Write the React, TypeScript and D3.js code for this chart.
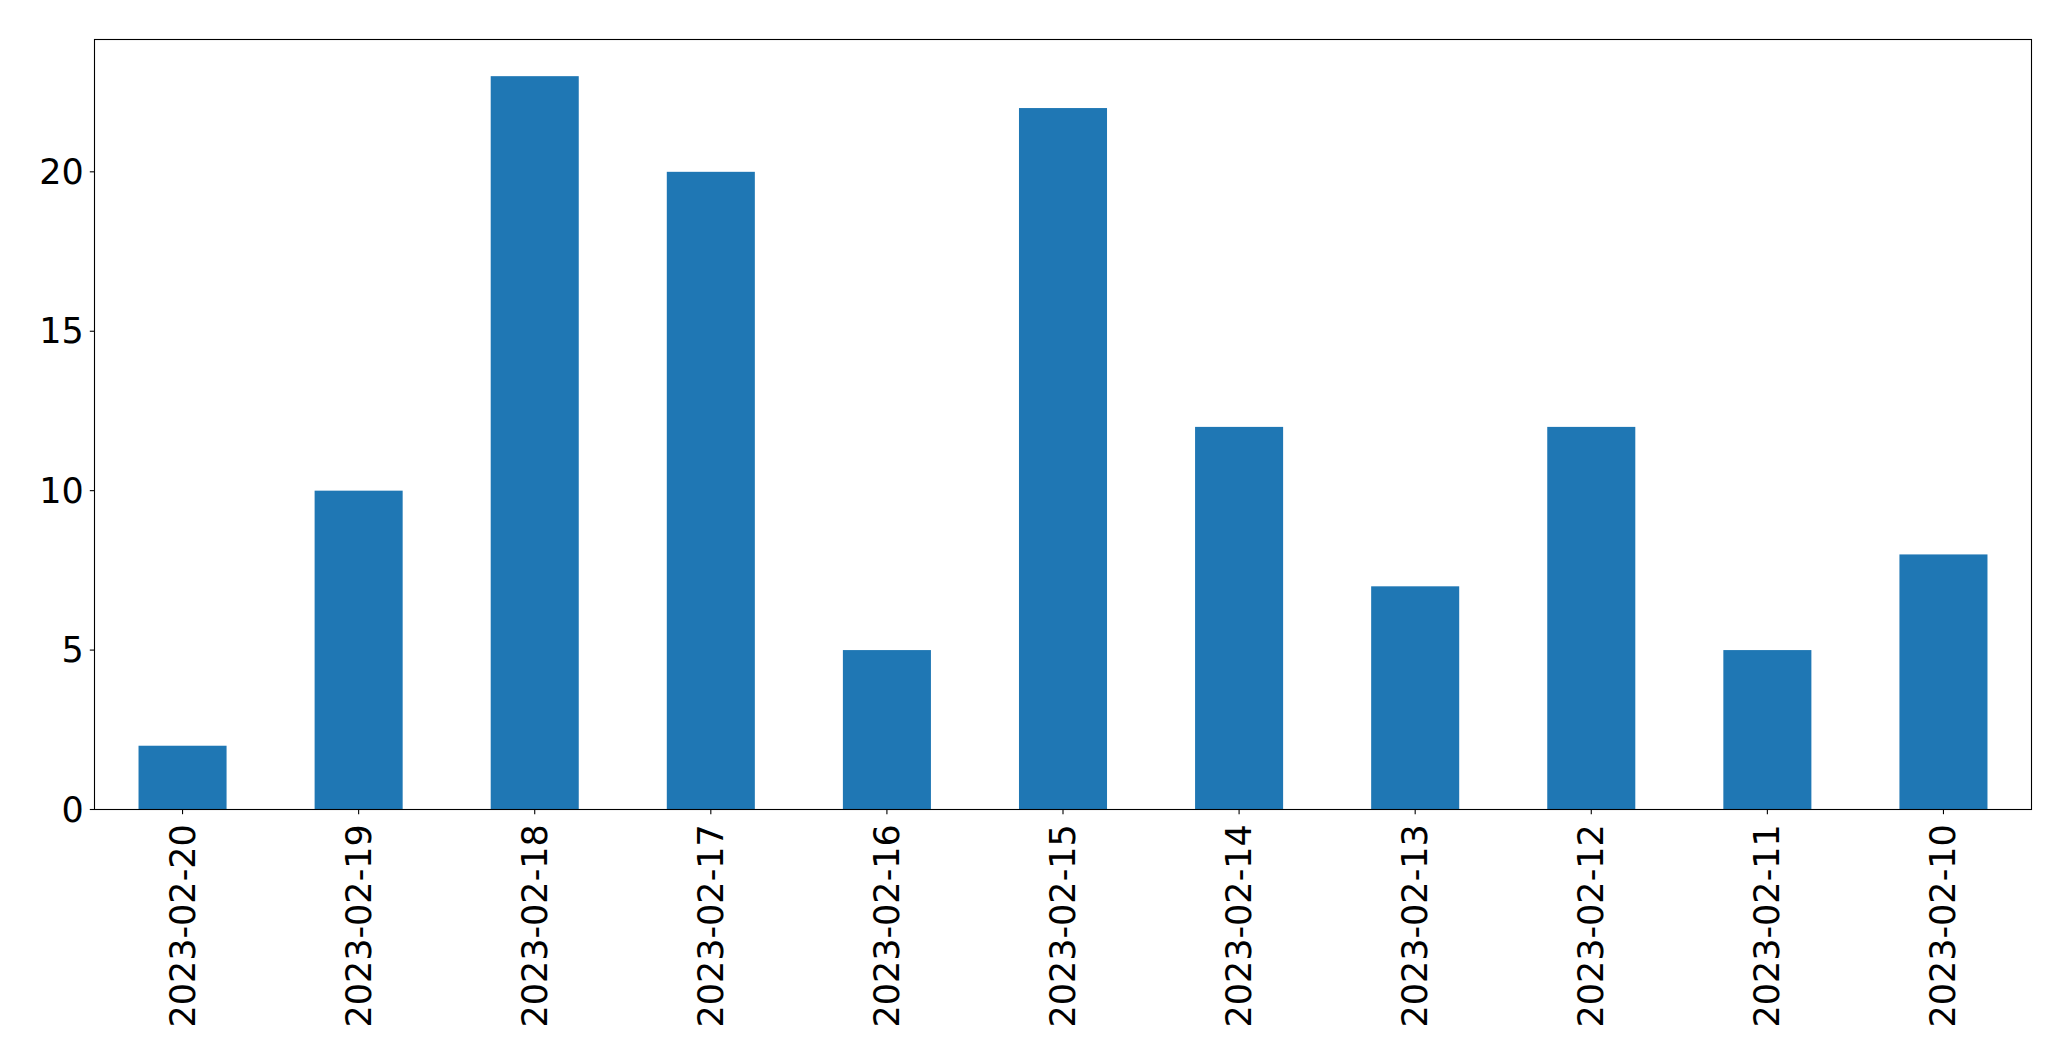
import React from "react";
import * as d3 from "d3";

const categories = ["2023-02-20","2023-02-19","2023-02-18","2023-02-17","2023-02-16","2023-02-15","2023-02-14","2023-02-13","2023-02-12","2023-02-11","2023-02-10"];
const values = [2, 10, 23, 20, 5, 22, 12, 7, 12, 5, 8];
const yTicks = [0, 5, 10, 15, 20];

const W = 2071, H = 1061;
const left = 94.5, right = 2031.5, top = 39.5, bottom = 809.5;
const fontSize = 35;
const FONT = "'DejaVu Sans', sans-serif";

export default function App() {
  const x = d3.scaleBand<string>().domain(categories).range([left, right]).paddingInner(0.5).paddingOuter(0.25);
  const y = d3.scaleLinear().domain([0, d3.max(values)! * 1.05]).range([bottom, top]);
  const tick = 4.7;
  return (
    <svg width={W} height={H} style={{ position: "absolute", left: 0, top: 0, background: "#fff" }}>
      <rect x={0} y={0} width={W} height={H} fill="#fff" />
      {categories.map((c, i) => (
        <rect key={c} x={x(c)!} y={y(values[i])} width={x.bandwidth()} height={y(0) - y(values[i])} fill="#1f77b4" />
      ))}
      <rect x={left} y={top} width={right - left} height={bottom - top} fill="none" stroke="#000" strokeWidth={1.1} />
      {yTicks.map(t => (
        <g key={t}>
          <line x1={left - tick} x2={left} y1={y(t)} y2={y(t)} stroke="#000" strokeWidth={1.1} />
          <text x={left - tick - 6} y={y(t)} textAnchor="end" dominantBaseline="central" fontFamily={FONT} fontSize={fontSize} fill="#000">{t}</text>
        </g>
      ))}
      {categories.map(c => {
        const cx = x(c)! + x.bandwidth() / 2;
        return (
          <g key={c}>
            <line x1={cx} x2={cx} y1={bottom} y2={bottom + tick} stroke="#000" strokeWidth={1.1} />
            <text transform={`translate(${cx},${bottom + tick + 10}) rotate(-90)`} textAnchor="end" dominantBaseline="central" fontFamily={FONT} fontSize={fontSize} fill="#000">{c}</text>
          </g>
        );
      })}
    </svg>
  );
}
